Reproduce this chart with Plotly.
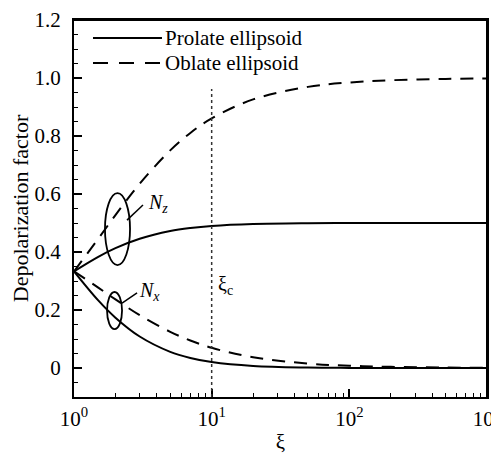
import math
import plotly.graph_objects as go

# aspect ratio values
xi = [1, 1.5, 2, 3, 5, 7, 10, 20, 50, 100, 200, 500, 1000]
# Prolate ellipsoid (solid)
prolate_upper = [0.3333, 0.3834, 0.4132, 0.4456, 0.4721, 0.4827, 0.4899, 0.4966, 0.4993, 0.4998, 0.4999, 0.5, 0.5]
prolate_lower = [0.3333, 0.2331, 0.1736, 0.1087, 0.0558, 0.0346, 0.0203, 0.0068, 0.0014, 0.0004, 0.0001, 0.0, 0.0]
# Oblate ellipsoid (dashed)
oblate_upper = [0.3333, 0.4458, 0.5272, 0.6354, 0.7505, 0.8105, 0.8608, 0.9262, 0.9694, 0.9845, 0.9922, 0.9969, 0.9984]
oblate_lower = [0.3333, 0.2771, 0.2364, 0.1823, 0.1248, 0.0947, 0.0696, 0.0369, 0.0153, 0.0078, 0.0039, 0.0016, 0.0008]

series_names = ["Prolate ellipsoid", "Oblate ellipsoid"]
xi_c = 10
x_tickvals = [1, 10, 100, 1000]
x_ticktext = ["10<sup>0</sup>", "10<sup>1</sup>", "10<sup>2</sup>", "10<sup>3</sup>"]
y_tickvals = [0, 0.2, 0.4, 0.6, 0.8, 1.0, 1.2]
y_ticktext = ["0", "0.2", "0.4", "0.6", "0.8", "1.0", "1.2"]

FONT = "Liberation Serif"
DASH = "13px,9px"

fig = go.Figure()
for ys in (prolate_upper, prolate_lower):
    fig.add_trace(go.Scatter(x=xi, y=ys, mode="lines", name=series_names[0], showlegend=False,
                             line=dict(color="black", width=2, shape="spline")))
for ys in (oblate_upper, oblate_lower):
    fig.add_trace(go.Scatter(x=xi, y=ys, mode="lines", name=series_names[1], showlegend=False,
                             line=dict(color="black", width=2, dash=DASH, shape="spline")))

P = lambda e: 10 ** e  # shapes on log axis take data values
shapes = [
    # frame (top and right edges)
    dict(type="line", xref="paper", yref="paper", x0=0, x1=1, y0=1, y1=1,
         line=dict(color="black", width=2), layer="above"),
    dict(type="line", xref="paper", yref="paper", x0=1, x1=1, y0=0, y1=1,
         line=dict(color="black", width=2), layer="above"),
    # vertical dotted line at xi_c
    dict(type="line", xref="x", yref="y", x0=xi_c, x1=xi_c, y0=-0.1, y1=0.962,
         line=dict(color="#333333", width=1.5, dash="dot")),
    # ellipse around N_z curves
    dict(type="circle", xref="x", yref="y", x0=P(0.225), x1=P(0.407), y0=0.355, y1=0.603,
         line=dict(color="black", width=1.8)),
    # ellipse around N_x curves
    dict(type="circle", xref="x", yref="y", x0=P(0.240), x1=P(0.349), y0=0.134, y1=0.262,
         line=dict(color="black", width=1.8)),
    # leader lines
    dict(type="line", xref="x", yref="y", x0=P(0.385), x1=P(0.501), y0=0.51, y1=0.562,
         line=dict(color="black", width=1.5)),
    dict(type="line", xref="x", yref="y", x0=P(0.349), x1=P(0.458), y0=0.224, y1=0.259,
         line=dict(color="black", width=1.5)),
    # manual legend samples
    dict(type="line", xref="paper", yref="paper", x0=0.046, x1=0.213, y0=0.952, y1=0.952,
         line=dict(color="black", width=2)),
    dict(type="line", xref="paper", yref="paper", x0=0.046, x1=0.213, y0=0.886, y1=0.886,
         line=dict(color="black", width=2, dash="15px,11px")),
]

annotations = [
    dict(x=0.215, y=0.952, xref="paper", yref="paper", text=series_names[0], showarrow=False,
         xanchor="left", yanchor="middle", font=dict(family=FONT, size=21, color="black")),
    dict(x=0.215, y=0.886, xref="paper", yref="paper", text=series_names[1], showarrow=False,
         xanchor="left", yanchor="middle", font=dict(family=FONT, size=21, color="black")),
    dict(x=0.52, y=0.568, xref="x", yref="y", text="<i>N</i><sub><i>z</i></sub>", showarrow=False,
         xanchor="left", yanchor="middle", font=dict(family=FONT, size=20, color="black")),
    dict(x=0.46, y=0.265, xref="x", yref="y", text="<i>N</i><sub><i>x</i></sub>", showarrow=False,
         xanchor="left", yanchor="middle", font=dict(family=FONT, size=20, color="black")),
    dict(x=math.log10(xi_c) + 0.03, y=0.285, xref="x", yref="y", text="ξ<sub>c</sub>", showarrow=False,
         xanchor="left", yanchor="middle", font=dict(family=FONT, size=20, color="black")),
]

fig.update_layout(
    width=483, height=446,
    margin=dict(l=66, r=4, t=12, b=57),
    paper_bgcolor="white", plot_bgcolor="white",
    font=dict(family=FONT, size=21, color="black"),
    shapes=shapes, annotations=annotations, showlegend=False,
)

fig.update_xaxes(
    type="log", range=[0, 3], showgrid=False, zeroline=False, automargin=False,
    showline=True, linecolor="black", linewidth=2, mirror=True,
    tickvals=x_tickvals, ticktext=x_ticktext, ticks="inside", ticklen=8, tickwidth=1.5, tickcolor="black",
    minor=dict(tickvals=[m * 10 ** d for d in range(3) for m in range(2, 10)], ticks="inside", ticklen=4,
               tickwidth=1, tickcolor="black"),
    tickfont=dict(family=FONT, size=21), ticklabelstandoff=2, ticklabeloverflow="allow",
    title=dict(text="ξ", font=dict(family=FONT, size=21), standoff=38),
)
fig.update_yaxes(
    range=[-0.1, 1.2], showgrid=False, zeroline=False, automargin=False,
    showline=True, linecolor="black", linewidth=2, mirror=True,
    tickvals=y_tickvals, ticktext=y_ticktext, ticks="inside", ticklen=8, tickwidth=1.5, tickcolor="black",
    minor=dict(dtick=0.05, tick0=0, ticks="inside", ticklen=4, tickwidth=1, tickcolor="black"),
    tickfont=dict(family=FONT, size=21), ticklabelstandoff=7, ticklabeloverflow="allow",
    title=dict(text="Depolarization factor", font=dict(family=FONT, size=22), standoff=10),
)

fig.write_html("out.html")
